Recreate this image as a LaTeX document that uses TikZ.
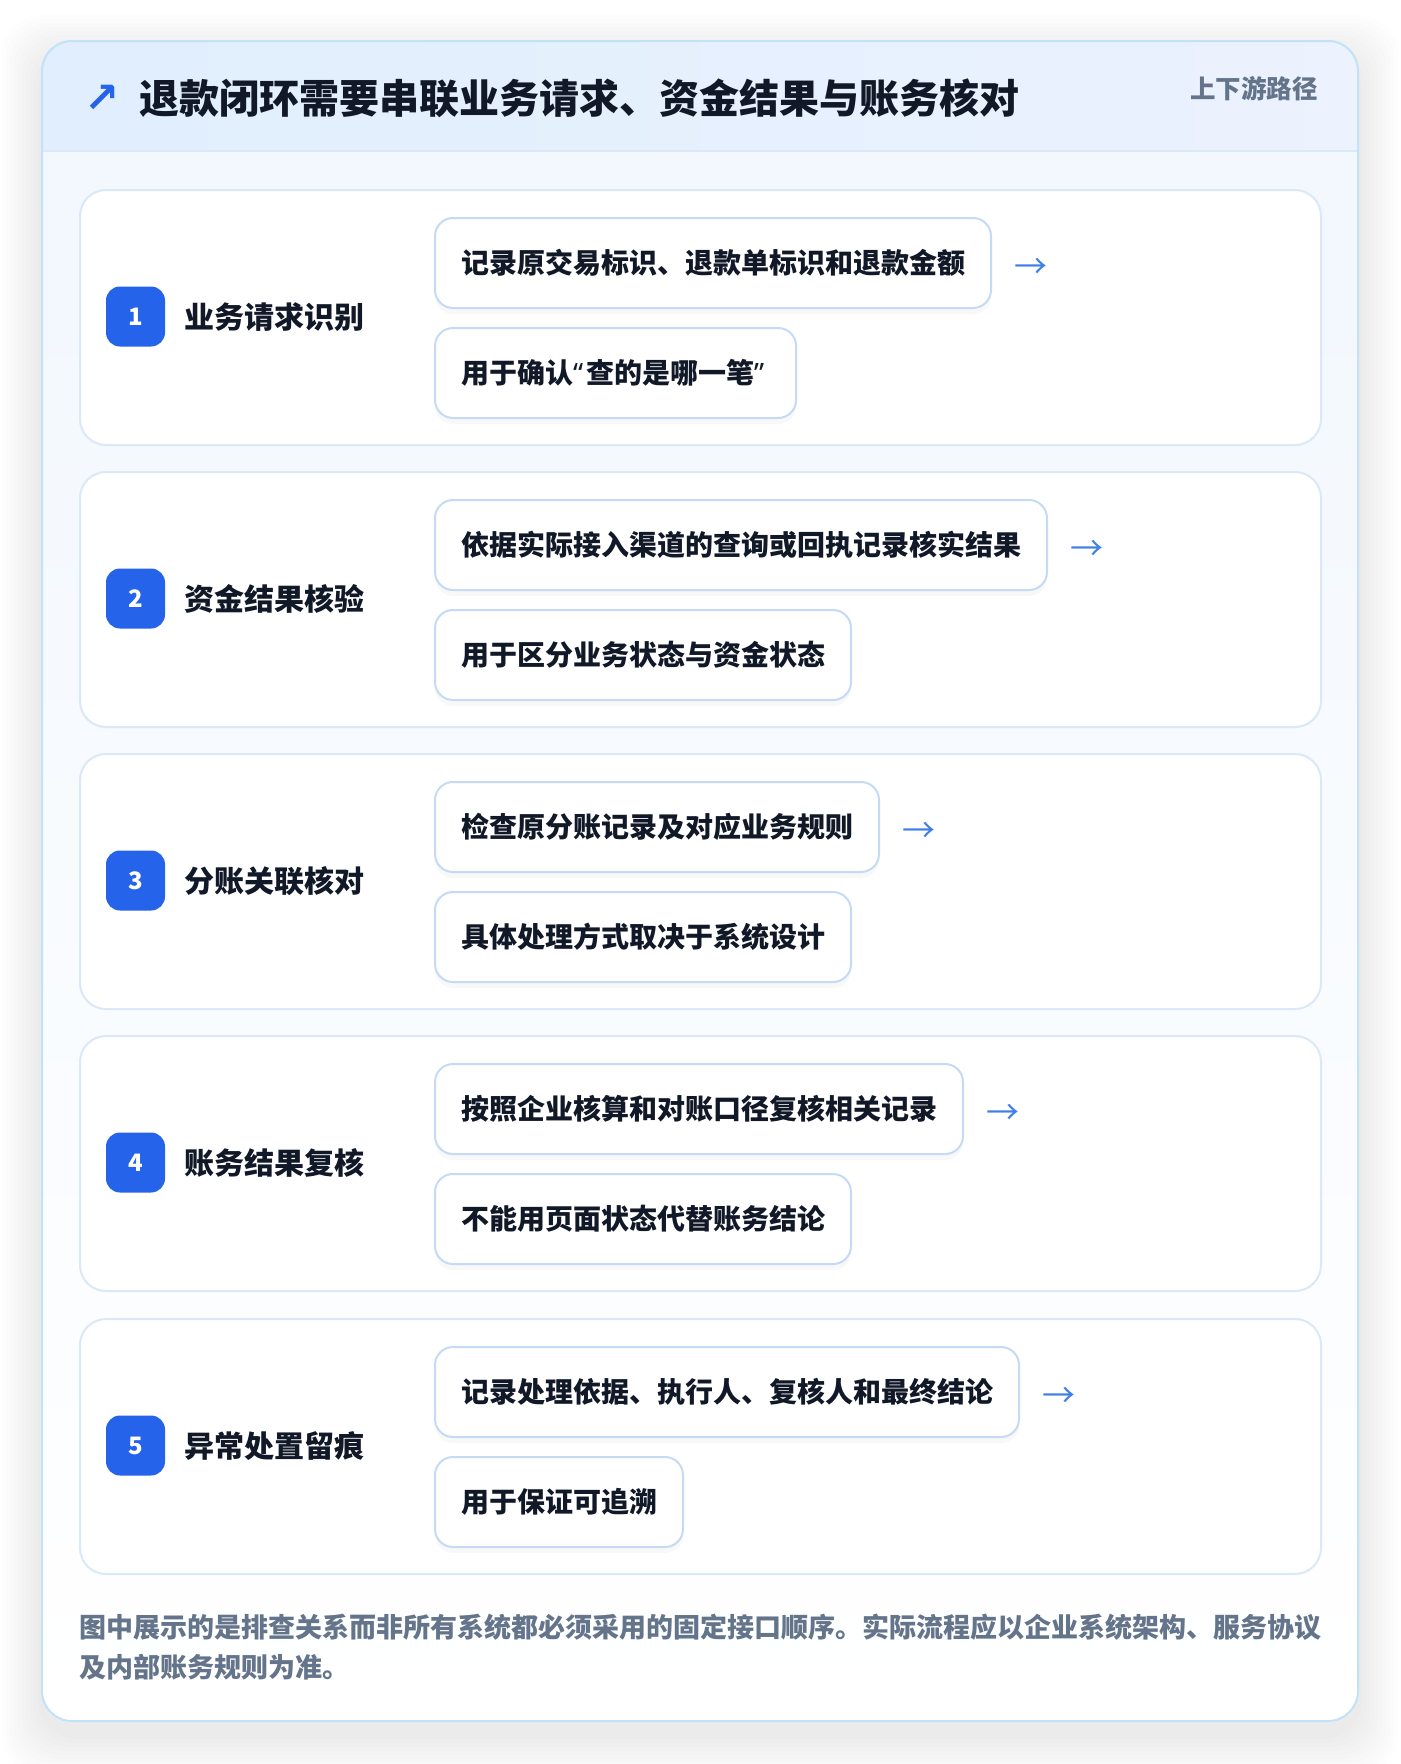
\documentclass[tikz,border=0pt]{standalone}
\usepackage{fontspec}
\setmainfont{Noto Sans CJK SC}
\newfontfamily\symfont{DejaVu Sans}
\newfontfamily\latinfont{Noto Sans}
\usetikzlibrary{positioning,shadows}

\definecolor{cardline}{HTML}{C2E2F7}
\definecolor{headleft}{HTML}{E0EEFD}
\definecolor{headright}{HTML}{ECF2FE}
\definecolor{bodytop}{HTML}{F1F7FE}
\definecolor{rowline}{HTML}{DAE8F8}
\definecolor{boxline}{HTML}{C5DBF5}
\definecolor{badgeblue}{HTML}{2563EB}
\definecolor{arrowblue}{HTML}{3F80E6}
\definecolor{inkdark}{HTML}{111827}
\definecolor{inkgray}{HTML}{64748B}

\tikzset{
    rowcard/.style={draw=rowline, line width=2pt, fill=white,
        rounded corners=26pt, minimum width=1241pt, minimum height=255pt,
        anchor=north west, inner sep=0pt},
    badge/.style={fill=badgeblue, rounded corners=14pt, minimum width=59pt,
        minimum height=60pt, inner sep=0pt, text=white,
        font=\bfseries\fontsize{24}{24}\selectfont},
    stagelabel/.style={anchor=west, inner sep=0pt, text=inkdark,
        font=\bfseries\fontsize{30}{30}\selectfont},
    notebox/.style={draw=boxline, line width=2pt, fill=white,
        rounded corners=18pt, minimum height=90pt, inner xsep=26pt,
        inner ysep=0pt, text=inkdark,
        font=\bfseries\fontsize{28}{28}\selectfont,
        drop shadow={shadow xshift=0pt, shadow yshift=-6pt, opacity=.05}},
    flowarrow/.style={inner sep=0pt, text=arrowblue,
        font=\fontsize{33}{33}\selectfont}
}

\begin{document}
\begin{tikzpicture}[x=1pt, y=-1pt]
    \useasboundingbox[fill=white] (0, 0) rectangle (1400, 1764);

    % outer card with its soft shadow
    \foreach \s in {4, 8, ..., 40}
        \fill[black, opacity=0.006, rounded corners=40pt]
            (42-\s, 41-\s+14) rectangle (1358+\s, 1721+\s+14);
    \fill[rounded corners=30pt, top color=bodytop, bottom color=white]
        (42, 41) rectangle (1358, 1721);
    \begin{scope}
        \clip[rounded corners=30pt] (42, 41) rectangle (1358, 1721);
        \fill[left color=headleft, right color=headright]
            (42, 41) rectangle (1358, 151);
    \end{scope}
    \draw[rowline, line width=2pt] (42, 151) -- (1358, 151);
    \draw[cardline, line width=2pt, rounded corners=30pt]
        (42, 41) rectangle (1358, 1721);

    \node[text=badgeblue, inner sep=0pt,
        font=\symfont\bfseries\fontsize{42}{42}\selectfont]
        (icon) at (102, 99) {↗};
    \node[anchor=west, inner sep=0pt, text=inkdark,
        font=\bfseries\fontsize{40}{40}\selectfont]
        (title) at (139, 98) {退款闭环需要串联业务请求、资金结果与账务核对};
    \node[anchor=east, inner sep=0pt, text=inkgray,
        font=\bfseries\fontsize{25.5}{25.5}\selectfont]
        (scope) at (1318, 89) {上下游路径};

    % 1
    \node[rowcard] (row1) at (79, 189) {};
    \node[badge] (num1) at (135.5, 316.5) {1};
    \node[stagelabel] (stage1) at (184, 317) {业务请求识别};
    \node[notebox, anchor=north west] (act1) at (434, 217)
        {记录原交易标识、退款单标识和退款金额};
    \node[notebox, below right=18pt and 0pt of act1.south west] (use1)
        {用于确认{\latinfont “}\kern3pt 查的是哪一笔{\latinfont ”}\kern6pt};
    \node[flowarrow, right=22pt of act1.east, yshift=-5pt] (go1) {→};

    % 2
    \node[rowcard] (row2) at (79, 471) {};
    \node[badge] (num2) at (135.5, 598.5) {2};
    \node[stagelabel] (stage2) at (184, 599) {资金结果核验};
    \node[notebox, anchor=north west] (act2) at (434, 499)
        {依据实际接入渠道的查询或回执记录核实结果};
    \node[notebox, below right=18pt and 0pt of act2.south west] (use2)
        {用于区分业务状态与资金状态};
    \node[flowarrow, right=22pt of act2.east, yshift=-5pt] (go2) {→};

    % 3
    \node[rowcard] (row3) at (79, 753) {};
    \node[badge] (num3) at (135.5, 880.5) {3};
    \node[stagelabel] (stage3) at (184, 881) {分账关联核对};
    \node[notebox, anchor=north west] (act3) at (434, 781)
        {检查原分账记录及对应业务规则};
    \node[notebox, below right=18pt and 0pt of act3.south west] (use3)
        {具体处理方式取决于系统设计};
    \node[flowarrow, right=22pt of act3.east, yshift=-5pt] (go3) {→};

    % 4
    \node[rowcard] (row4) at (79, 1035) {};
    \node[badge] (num4) at (135.5, 1162.5) {4};
    \node[stagelabel] (stage4) at (184, 1163) {账务结果复核};
    \node[notebox, anchor=north west] (act4) at (434, 1063)
        {按照企业核算和对账口径复核相关记录};
    \node[notebox, below right=18pt and 0pt of act4.south west] (use4)
        {不能用页面状态代替账务结论};
    \node[flowarrow, right=22pt of act4.east, yshift=-5pt] (go4) {→};

    % 5
    \node[rowcard] (row5) at (79, 1318) {};
    \node[badge] (num5) at (135.5, 1445.5) {5};
    \node[stagelabel] (stage5) at (184, 1446) {异常处置留痕};
    \node[notebox, anchor=north west] (act5) at (434, 1346)
        {记录处理依据、执行人、复核人和最终结论};
    \node[notebox, below right=18pt and 0pt of act5.south west] (use5)
        {用于保证可追溯};
    \node[flowarrow, right=22pt of act5.east, yshift=-5pt] (go5) {→};

    \node[anchor=west, inner sep=0pt, align=left, text=inkgray,
        font=\bfseries\fontsize{27}{40}\selectfont] (note) at (79, 1647)
        {图中展示的是排查关系而非所有系统都必须采用的固定接口顺序。实际流程应以企业系统架构、服务协议\\
         及内部账务规则为准。};
\end{tikzpicture}
\end{document}
